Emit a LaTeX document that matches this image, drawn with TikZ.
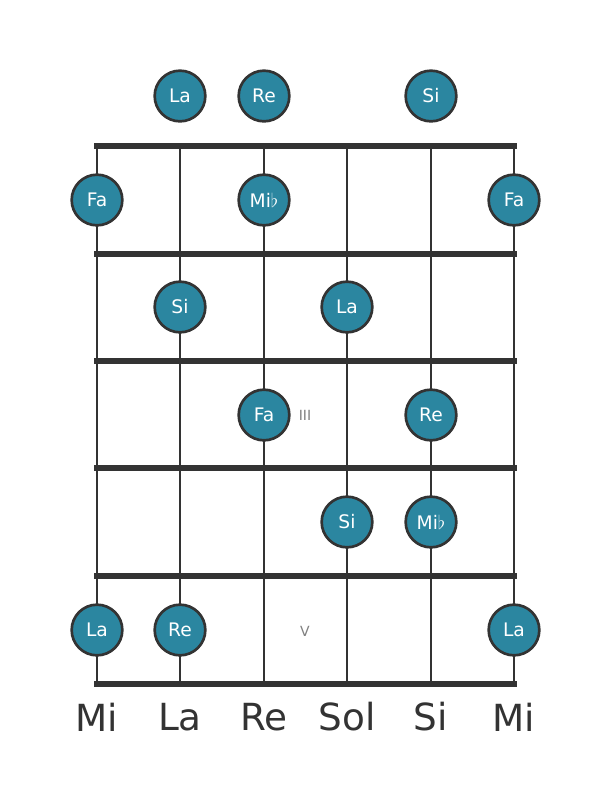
\documentclass[tikz,border=0pt]{standalone}
\usepackage{fontspec}
\setmainfont{DejaVu Sans}
\usetikzlibrary{positioning}
\definecolor{notefill}{HTML}{2B86A0}
\definecolor{gridline}{HTML}{333333}

\begin{document}
\begin{tikzpicture}[x=0.75pt, y=-0.75pt,
    note/.style={circle, draw=gridline, line width=2pt, fill=notefill,
      minimum size=38pt, inner sep=0pt, text=white, font=\fontsize{14}{14}\selectfont},
    fretline/.style={line width=3.8pt, draw=gridline},
    stringline/.style={line width=2.2pt, draw=gridline},
    marker/.style={text=gray, font=\fontsize{10.5}{10.5}\selectfont},
    stringname/.style={text=gridline, font=\fontsize{28}{28}\selectfont}]

    \useasboundingbox (0,0) rectangle (611,801);

    % strings and frets
    \foreach \s/\x in {1/97, 2/180, 3/264, 4/347, 5/431, 6/514} {
      \coordinate (top\s) at (\x,146);
      \coordinate (bot\s) at (\x,684);
      \draw[stringline] (top\s) -- (bot\s);
    }
    \foreach \f/\y in {0/146, 1/254, 2/361, 3/468, 4/576, 5/684} {
      \coordinate (fl\f) at (97,\y);
      \coordinate (fr\f) at (514,\y);
      \draw[fretline, line cap=rect] (fl\f) -- (fr\f);
    }

    % position markers
    \node[marker] (m3) at (305,415) {III};
    \node[marker] (m5) at (305,631) {V};

    % open strings
    \node[note] (o2) at (180,96) {La};
    \node[note] (o3) at (264,96) {Re};
    \node[note] (o5) at (431,96) {Si};

    % fret 1
    \node[note] (f1a) at (97,200) {Fa};
    \node[note] (f1b) at (264,200) {Mi$\flat$};
    \node[note] (f1c) at (514,200) {Fa};

    % fret 2
    \node[note] (f2a) at (180,307) {Si};
    \node[note] (f2b) at (347,307) {La};

    % fret 3
    \node[note] (f3a) at (264,415) {Fa};
    \node[note] (f3b) at (431,415) {Re};

    % fret 4
    \node[note] (f4a) at (347,522) {Si};
    \node[note] (f4b) at (431,522) {Mi$\flat$};

    % fret 5
    \node[note] (f5a) at (97,630) {La};
    \node[note] (f5b) at (180,630) {Re};
    \node[note] (f5c) at (514,630) {La};

    % tuning
    \node[stringname] (n1) at (97,717) {Mi};
    \node[stringname] (n2) at (180,717) {La};
    \node[stringname] (n3) at (264,717) {Re};
    \node[stringname] (n4) at (347,717) {Sol};
    \node[stringname] (n5) at (431,717) {Si};
    \node[stringname] (n6) at (514,717) {Mi};
\end{tikzpicture}
\end{document}
